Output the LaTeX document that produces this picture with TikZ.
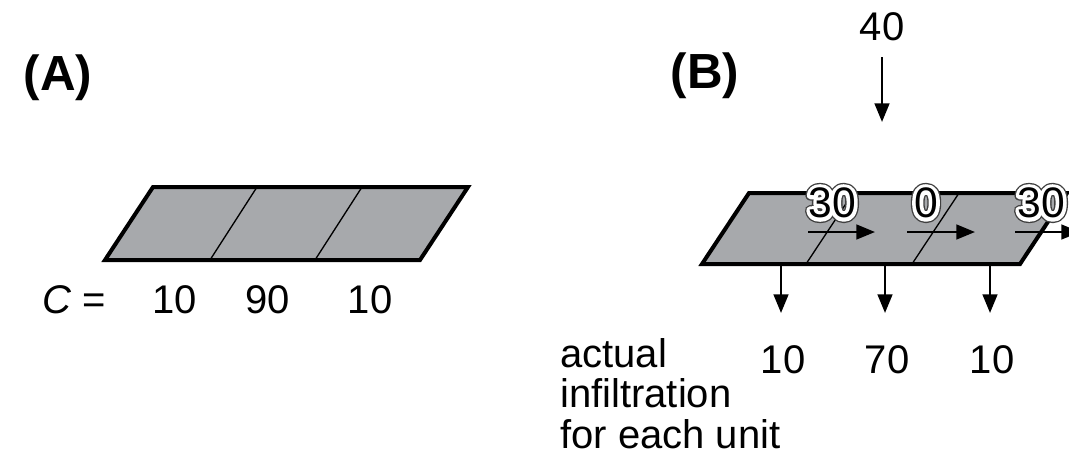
\documentclass[tikz,border=0pt]{standalone}
\usepackage{fontspec}
\setmainfont{Liberation Sans}
\usetikzlibrary{arrows.meta}
\definecolor{cellgray}{HTML}{A7A9AC}
\newcommand\strokedtext[2]{\special{pdf:literal direct 2 Tr #1 w 1 j}#2\special{pdf:literal direct 0 Tr 1 w}}
\begin{document}
\begin{tikzpicture}[x=0.75pt,y=-0.75pt,
  lbl/.style={font=\fontsize{30}{36}\selectfont, inner sep=0pt},
  qlbl/.style={font=\fontsize{32}{36}\selectfont, inner sep=0pt},
  big/.style={font=\fontsize{37}{44}\selectfont\bfseries, inner sep=0pt},
  box/.style={draw=black, line width=3pt, fill=cellgray, line join=miter},
  divider/.style={line width=1pt},
  flow/.style={line width=1.9pt, -{Triangle[length=14pt,width=11pt]}}]
\useasboundingbox (0,0) rectangle (1069,454);

% ---------- (A) ----------
\node[big] (labA) at (58,78) {(A)};
\draw[box] (153,187) -- (468,187) -- (420,260) -- (105,260) -- cycle;
\coordinate (a1t) at (257,187); \coordinate (a1b) at (210,260);
\coordinate (a2t) at (362,187); \coordinate (a2b) at (315,260);
\draw[divider] (a1t) -- (a1b);
\draw[divider] (a2t) -- (a2b);
\node[lbl, anchor=west] (ceq) at (42,300) {\textit{C} =};
\node[lbl] (c1) at (175,300) {10};
\node[lbl] (c2) at (268,300) {90};
\node[lbl] (c3) at (370,300) {10};

% ---------- (B) ----------
\node[big] (labB) at (705,76) {(B)};
\node[lbl] (in40) at (882,27) {40};
\coordinate (in40e) at (882,122);
\draw[flow] (882,57) -- (in40e);

\draw[box] (749,193) -- (1067,193) -- (1020,264) -- (702,264) -- cycle;
\coordinate (b1t) at (853,193); \coordinate (b1b) at (806,264);
\coordinate (b2t) at (959,193); \coordinate (b2b) at (912,264);
\draw[divider] (b1t) -- (b1b);
\draw[divider] (b2t) -- (b2b);

% lateral flows
\coordinate (h1s) at (808,232); \coordinate (h1e) at (875,232);
\coordinate (h2s) at (907,232); \coordinate (h2e) at (975,232);
\coordinate (h3s) at (1015,232); \coordinate (h3e) at (1080,232);
\draw[flow] (h1s) -- (h1e);
\draw[flow] (h2s) -- (h2e);
\draw[flow] (h3s) -- (h3e);

% halo labels
\foreach \px/\t [count=\i] in {832/30, 926/0, 1041/30} {
  \node[qlbl] (q\i) at (\px,203) {%
    \rlap{\color{black!75}\strokedtext{7.5}{\t}}%
    \rlap{\color{white}\strokedtext{5.5}{\t}}%
    \t};
}

% infiltration arrows
\foreach \px/\v [count=\i] in {781/10, 885/70, 990/10} {
  \coordinate (d\i s) at (\px,264);
  \coordinate (d\i e) at (\px,313);
  \draw[flow] (d\i s) -- (d\i e);
  \node[lbl] (v\i) at (\px+2,360) {\v};
}

\node[lbl, anchor=north west, align=left,
  font=\fontsize{30}{30.5}\selectfont] (act) at (560,338)
  {actual\\infiltration\\for each unit};
\end{tikzpicture}
\end{document}
